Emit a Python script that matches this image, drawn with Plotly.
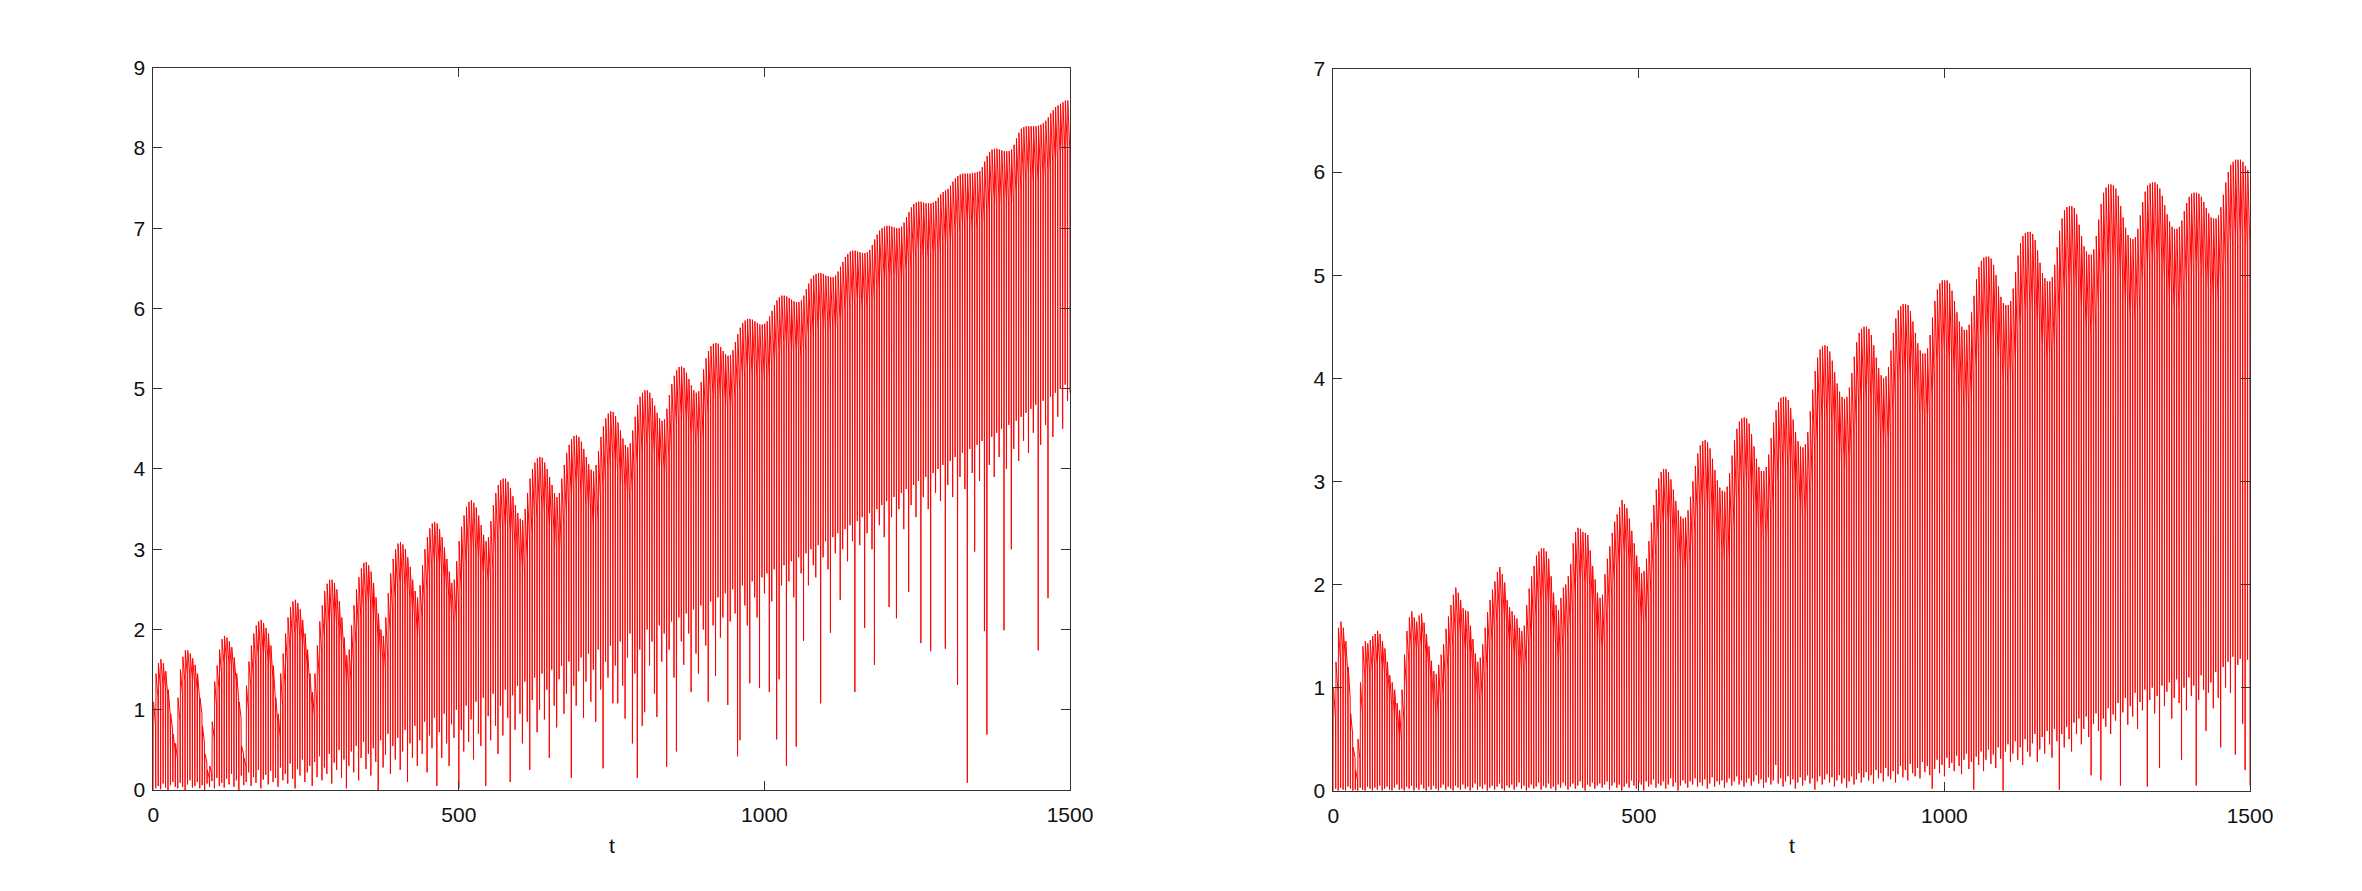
import numpy as np
import plotly.graph_objects as go

# ---------------- data ----------------
# Fast cycle: trough at t = 4k, crest right after, shoulder before next trough.
# LEFT panel
left_peaks = [
1.10,1.45,1.58,1.63,1.58,1.48,1.25,0.95,0.70,0.58,
1.15,1.50,1.66,1.74,1.74,1.70,1.64,1.56,1.45,1.15,
0.80,0.45,0.25,0.30,0.85,1.35,1.55,1.75,1.88,1.92,
1.90,1.85,1.78,1.65,1.45,1.10,0.55,0.40,1.30,1.60,
1.80,1.95,2.05,2.10,2.12,2.08,2.02,1.95,1.80,1.55,
1.15,0.95,1.45,1.70,1.95,2.15,2.28,2.35,2.37,2.33,
2.25,2.12,1.95,1.75,1.45,1.22,1.45,1.80,2.10,2.30,
2.48,2.57,2.62,2.62,2.58,2.50,2.35,2.15,1.90,1.68,
1.75,2.05,2.30,2.50,2.65,2.76,2.83,2.84,2.80,2.72,
2.58,2.40,2.20,2.00,1.92,2.15,2.45,2.70,2.88,3.00,
3.07,3.09,3.06,3.00,2.90,2.78,2.62,2.48,2.40,2.55,
2.80,3.00,3.15,3.26,3.32,3.34,3.32,3.25,3.15,3.02,
2.88,2.72,2.58,2.62,2.85,3.10,3.28,3.42,3.53,3.59,
3.61,3.58,3.52,3.42,3.30,3.18,3.10,3.15,3.35,3.55,
3.70,3.80,3.86,3.88,3.88,3.84,3.76,3.66,3.55,3.45,
3.38,3.36,3.50,3.70,3.88,4.00,4.08,4.13,4.15,4.14,
4.08,4.00,3.90,3.80,3.70,3.65,3.70,3.88,4.05,4.20,
4.30,4.37,4.41,4.42,4.40,4.34,4.25,4.15,4.06,3.99,
3.97,4.05,4.22,4.40,4.53,4.63,4.69,4.72,4.71,4.66,
4.58,4.48,4.38,4.30,4.27,4.32,4.48,4.65,4.80,4.90,
4.95,4.98,4.98,4.95,4.88,4.79,4.70,4.63,4.60,4.62,
4.75,4.92,5.06,5.16,5.23,5.27,5.28,5.26,5.20,5.12,
5.04,4.98,4.95,4.97,5.08,5.24,5.38,5.47,5.53,5.56,
5.57,5.56,5.52,5.47,5.43,5.41,5.42,5.48,5.58,5.68,
5.76,5.82,5.85,5.87,5.87,5.86,5.84,5.82,5.80,5.80,
5.81,5.84,5.90,5.97,6.04,6.10,6.14,6.16,6.16,6.15,
6.13,6.11,6.09,6.08,6.08,6.10,6.16,6.24,6.31,6.37,
6.41,6.43,6.44,6.44,6.43,6.41,6.40,6.39,6.39,6.41,
6.46,6.52,6.58,6.64,6.68,6.71,6.72,6.72,6.71,6.70,
6.69,6.69,6.70,6.73,6.79,6.86,6.92,6.97,7.00,7.02,
7.03,7.03,7.02,7.01,7.00,7.00,7.02,7.07,7.14,7.20,
7.26,7.30,7.32,7.33,7.33,7.32,7.31,7.31,7.31,7.32,
7.34,7.38,7.42,7.45,7.47,7.49,7.53,7.58,7.62,7.65,
7.67,7.68,7.68,7.68,7.68,7.69,7.69,7.70,7.71,7.76,
7.83,7.90,7.95,7.98,7.99,7.99,7.98,7.97,7.96,7.96,
7.96,7.98,8.04,8.12,8.19,8.24,8.26,8.27,8.27,8.27,
8.27,8.27,8.28,8.29,8.31,8.34,8.38,8.43,8.47,8.51,
8.53,8.55,8.57,8.59,8.59]

left_band = [
0.3,0.3,0.3,0.3,0.3,0.3,0.3,0.2,0.2,0.2,
0.3,0.3,0.3,0.3,0.3,0.3,0.3,0.3,0.3,0.2,
0.2,0.1,0.1,0.1,0.2,0.3,0.3,0.3,0.3,0.3,
0.3,0.3,0.3,0.3,0.3,0.2,0.1,0.1,0.3,0.3,
0.4,0.4,0.4,0.4,0.4,0.4,0.4,0.4,0.4,0.4,
0.3,0.3,0.4,0.4,0.4,0.4,0.4,0.4,0.4,0.4,
0.4,0.4,0.4,0.4,0.4,0.3,0.4,0.4,0.4,0.4,
0.5,0.5,0.5,0.4,0.5,0.5,0.5,0.4,0.5,0.4,
0.4,0.5,0.5,0.5,0.5,0.5,0.5,0.5,0.5,0.5,
0.5,0.5,0.5,0.4,0.4,0.5,0.5,0.5,0.5,0.5,
0.5,0.5,0.5,0.5,0.5,0.5,0.5,0.5,0.5,0.4,
0.5,0.5,0.5,0.5,0.5,0.5,0.5,0.5,0.5,0.5,
0.5,0.5,0.5,0.5,0.6,0.6,0.6,0.6,0.6,0.5,
0.6,0.6,0.6,0.6,0.6,0.5,0.5,0.5,0.6,0.6,
0.6,0.6,0.6,0.6,0.6,0.6,0.6,0.6,0.6,0.6,
0.6,0.7,0.6,0.6,0.7,0.6,0.7,0.6,0.6,0.7,
0.6,0.7,0.6,0.6,0.7,0.6,0.7,0.6,0.6,0.7,
0.6,0.7,0.6,0.6,0.7,0.6,0.7,0.6,0.6,0.7,
0.6,0.7,0.6,0.6,0.7,0.6,0.7,0.6,0.6,0.7,
0.6,0.7,0.6,0.6,0.7,0.6,0.7,0.6,0.6,0.7,
0.6,0.7,0.6,0.6,0.7,0.6,0.7,0.6,0.6,0.7,
0.6,0.7,0.6,0.6,0.7,0.6,0.7,0.6,0.6,0.7,
0.6,0.7,0.6,0.6,0.7,0.6,0.7,0.6,0.6,0.7,
0.6,0.7,0.6,0.6,0.7,0.6,0.7,0.6,0.6,0.7,
0.6,0.7,0.6,0.6,0.7,0.6,0.7,0.6,0.6,0.7,
0.6,0.7,0.6,0.6,0.7,0.6,0.7,0.6,0.6,0.7,
0.6,0.7,0.6,0.6,0.7,0.6,0.7,0.6,0.6,0.7,
0.6,0.7,0.6,0.6,0.7,0.6,0.7,0.6,0.6,0.7,
0.6,0.7,0.6,0.6,0.7,0.6,0.7,0.6,0.6,0.7,
0.6,0.7,0.6,0.6,0.7,0.6,0.7,0.6,0.6,0.7,
0.6,0.7,0.6,0.6,0.7,0.6,0.7,0.6,0.6,0.7,
0.6,0.7,0.6,0.6,0.7,0.6,0.7,0.6,0.6,0.7,
0.6,0.7,0.6,0.6,0.7,0.6,0.7,0.6,0.6,0.7,
0.6,0.7,0.6,0.6,0.7,0.6,0.7,0.6,0.6,0.7,
0.6,0.7,0.6,0.6,0.7,0.6,0.7,0.6,0.6,0.7,
0.6,0.7,0.6,0.6,0.7,0.6,0.7,0.6,0.6,0.7,
0.6,0.7,0.6,0.6,0.7,0.6,0.7,0.6,0.6,0.7,
0.6,0.6,0.6,0.6,0.6]

left_troughs = [
0.00,0.02,0.05,0.01,0.08,0.03,0.00,0.06,0.10,0.04,
0.02,0.09,0.04,0.00,0.07,0.12,0.03,0.05,0.10,0.02,
0.06,0.00,0.08,0.04,0.11,0.02,0.15,0.05,0.09,0.03,
0.14,0.07,0.20,0.04,0.12,0.00,0.18,0.06,0.10,0.22,
0.05,0.16,0.09,0.25,0.02,0.13,0.19,0.07,0.24,0.10,
0.15,0.04,0.28,0.12,0.20,0.08,0.33,0.14,0.02,0.26,
0.18,0.38,0.10,0.22,0.30,0.05,0.35,0.16,0.42,0.12,
0.28,0.20,0.45,0.08,0.34,0.25,0.50,0.15,0.38,0.02,
0.30,0.48,0.22,0.55,0.12,0.40,0.60,0.26,0.45,0.18,
0.52,0.35,0.00,0.62,0.28,0.44,0.70,0.20,0.55,0.38,
0.65,0.25,0.48,0.75,0.10,0.58,0.40,0.80,0.30,0.62,
0.45,0.85,0.22,0.68,0.52,0.90,0.05,0.72,0.40,0.95,
0.58,0.30,0.82,0.65,1.00,0.02,0.75,0.48,1.05,0.60,
0.88,0.38,1.10,0.70,0.55,1.15,0.05,0.92,0.62,1.20,
0.80,0.45,1.05,0.68,1.25,0.90,0.10,1.18,0.75,1.30,
0.95,0.58,1.35,0.85,0.25,1.12,1.40,0.72,1.00,1.45,
0.88,1.25,0.40,1.50,1.05,0.78,1.38,1.55,0.95,1.20,
1.60,0.15,1.30,1.05,1.48,1.65,0.90,1.35,1.70,1.10,
1.50,0.85,1.75,1.25,0.27,1.60,1.40,1.80,1.08,1.55,
1.08,1.85,1.30,0.89,1.65,1.95,0.58,1.45,0.15,1.75,
0.80,0.97,2.00,1.55,1.85,1.20,0.91,2.05,1.60,1.95,
0.29,1.75,2.10,1.40,0.48,2.15,1.85,1.56,2.20,1.95,
1.22,2.25,1.70,1.45,2.30,2.00,1.80,1.10,2.35,2.05,
1.42,2.40,1.90,2.15,2.45,1.06,2.10,2.50,2.20,0.42,
0.62,2.55,2.30,2.05,1.33,2.60,2.40,2.15,1.27,2.65,
2.45,2.70,1.22,2.35,2.75,0.63,1.38,2.55,2.80,0.30,
2.60,2.85,2.40,0.54,2.90,2.70,1.86,2.95,2.55,3.00,
2.80,2.65,3.05,1.08,2.90,3.10,2.75,1.96,3.15,2.95,
3.20,2.37,3.00,3.25,2.85,3.30,3.10,1.22,3.35,3.05,
3.40,2.02,3.20,3.45,3.00,1.56,3.50,3.30,3.55,3.15,
3.60,2.28,3.40,3.65,2.14,3.50,3.70,3.25,3.75,2.47,
3.55,3.80,3.40,3.85,1.83,3.65,3.90,3.50,1.73,3.95,
3.70,4.00,3.60,4.05,1.76,3.80,4.10,3.65,4.15,1.31,
3.90,4.20,3.75,0.09,4.25,3.95,2.97,4.30,3.85,4.35,
1.98,0.69,4.05,4.40,3.90,4.45,4.15,4.50,1.99,4.00,
4.55,3.00,4.25,4.60,4.10,4.65,4.35,4.70,4.20,4.75,
4.45,4.80,1.74,4.30,4.85,4.55,2.39,4.90,4.40,4.95,
4.65,5.00,4.50,5.05,4.85,4.95]

# RIGHT panel
right_peaks = [
1.00,1.25,1.58,1.64,1.58,1.45,1.20,0.75,0.42,0.20,
0.50,1.05,1.40,1.45,1.43,1.46,1.50,1.52,1.55,1.52,
1.45,1.38,1.25,1.12,1.05,0.98,0.85,0.78,0.98,1.32,
1.55,1.68,1.74,1.68,1.64,1.70,1.72,1.63,1.52,1.40,
1.26,1.16,1.13,1.22,1.32,1.42,1.57,1.69,1.80,1.90,
1.97,1.92,1.85,1.77,1.75,1.74,1.60,1.47,1.33,1.25,
1.29,1.42,1.58,1.73,1.85,1.95,2.03,2.12,2.17,2.10,
2.02,1.85,1.78,1.74,1.70,1.67,1.58,1.55,1.60,1.80,
1.96,2.08,2.18,2.28,2.32,2.35,2.35,2.32,2.25,2.08,
1.92,1.80,1.75,1.87,1.97,2.00,2.08,2.20,2.40,2.51,
2.55,2.54,2.51,2.50,2.48,2.33,2.18,2.05,1.92,1.87,
1.90,2.10,2.25,2.37,2.50,2.61,2.68,2.75,2.82,2.78,
2.74,2.64,2.52,2.40,2.28,2.17,2.11,2.13,2.25,2.42,
2.60,2.77,2.92,3.03,3.09,3.12,3.12,3.09,3.02,2.92,
2.81,2.72,2.66,2.64,2.65,2.72,2.85,3.00,3.15,3.27,
3.35,3.39,3.40,3.38,3.32,3.22,3.11,3.01,2.94,2.91,
2.90,2.95,3.08,3.25,3.40,3.51,3.58,3.61,3.62,3.61,
3.56,3.46,3.34,3.22,3.14,3.10,3.10,3.14,3.26,3.42,
3.57,3.69,3.77,3.81,3.82,3.82,3.79,3.71,3.60,3.48,
3.39,3.34,3.33,3.36,3.48,3.68,3.89,4.07,4.20,4.28,
4.31,4.32,4.31,4.26,4.17,4.06,3.95,3.87,3.82,3.80,
3.82,3.91,4.05,4.21,4.35,4.44,4.48,4.50,4.50,4.48,
4.42,4.32,4.20,4.10,4.03,4.00,4.02,4.11,4.27,4.44,
4.58,4.66,4.70,4.72,4.72,4.71,4.65,4.55,4.44,4.34,
4.27,4.24,4.24,4.29,4.42,4.59,4.75,4.86,4.92,4.95,
4.95,4.95,4.92,4.85,4.75,4.64,4.55,4.50,4.47,4.47,
4.52,4.64,4.80,4.96,5.08,5.14,5.17,5.18,5.18,5.16,
5.10,5.00,4.89,4.79,4.73,4.71,4.71,4.75,4.87,5.03,
5.19,5.31,5.38,5.41,5.42,5.42,5.40,5.34,5.24,5.12,
5.02,4.97,4.94,4.94,4.98,5.10,5.27,5.43,5.55,5.63,
5.66,5.67,5.67,5.65,5.59,5.49,5.38,5.28,5.23,5.20,
5.20,5.25,5.38,5.54,5.69,5.80,5.85,5.88,5.88,5.87,
5.84,5.77,5.67,5.56,5.46,5.39,5.36,5.35,5.37,5.45,
5.58,5.71,5.81,5.87,5.89,5.90,5.90,5.88,5.84,5.77,
5.68,5.59,5.52,5.47,5.45,5.45,5.47,5.53,5.62,5.70,
5.76,5.79,5.80,5.80,5.79,5.76,5.71,5.65,5.60,5.56,
5.55,5.55,5.58,5.66,5.78,5.90,6.00,6.07,6.10,6.12,
6.12,6.12,6.10,6.06,6.02]

right_band = [
0.3,0.3,0.3,0.3,0.3,0.3,0.3,0.2,0.1,0.1,
0.2,0.3,0.3,0.3,0.3,0.3,0.3,0.3,0.3,0.3,
0.3,0.3,0.3,0.3,0.3,0.3,0.3,0.3,0.3,0.3,
0.3,0.3,0.3,0.3,0.3,0.3,0.3,0.3,0.3,0.3,
0.4,0.4,0.4,0.4,0.4,0.4,0.4,0.4,0.4,0.4,
0.4,0.4,0.4,0.4,0.4,0.4,0.4,0.4,0.4,0.4,
0.4,0.4,0.4,0.4,0.4,0.4,0.4,0.4,0.4,0.4,
0.4,0.4,0.4,0.4,0.4,0.4,0.4,0.4,0.4,0.4,
0.5,0.5,0.5,0.5,0.5,0.5,0.5,0.5,0.5,0.5,
0.5,0.5,0.5,0.5,0.5,0.5,0.5,0.5,0.5,0.5,
0.5,0.5,0.5,0.5,0.5,0.5,0.5,0.5,0.5,0.5,
0.5,0.5,0.5,0.5,0.5,0.5,0.5,0.5,0.5,0.5,
0.5,0.5,0.5,0.5,0.5,0.5,0.5,0.5,0.5,0.5,
0.5,0.5,0.5,0.5,0.5,0.5,0.5,0.5,0.5,0.5,
0.5,0.5,0.5,0.5,0.5,0.5,0.5,0.5,0.5,0.5,
0.6,0.7,0.6,0.7,0.6,0.7,0.6,0.7,0.6,0.7,
0.6,0.7,0.6,0.7,0.6,0.7,0.6,0.7,0.6,0.7,
0.6,0.7,0.6,0.7,0.6,0.7,0.6,0.7,0.6,0.7,
0.6,0.7,0.6,0.7,0.6,0.7,0.6,0.7,0.6,0.7,
0.6,0.7,0.6,0.7,0.6,0.7,0.6,0.7,0.6,0.7,
0.6,0.7,0.6,0.7,0.6,0.7,0.6,0.7,0.6,0.7,
0.6,0.7,0.6,0.7,0.6,0.7,0.6,0.7,0.6,0.7,
0.6,0.7,0.6,0.7,0.6,0.7,0.6,0.7,0.6,0.7,
0.6,0.7,0.6,0.7,0.6,0.7,0.6,0.7,0.6,0.7,
0.6,0.7,0.6,0.7,0.6,0.7,0.6,0.7,0.6,0.7,
0.7,0.8,0.7,0.8,0.7,0.8,0.7,0.8,0.7,0.8,
0.7,0.8,0.7,0.8,0.7,0.8,0.7,0.8,0.7,0.8,
0.7,0.8,0.7,0.8,0.7,0.8,0.7,0.8,0.7,0.8,
0.7,0.8,0.7,0.8,0.7,0.8,0.7,0.8,0.7,0.8,
0.7,0.8,0.7,0.8,0.7,0.8,0.7,0.8,0.7,0.8,
0.7,0.8,0.7,0.8,0.7,0.8,0.7,0.8,0.7,0.8,
0.7,0.8,0.7,0.8,0.7,0.8,0.7,0.8,0.7,0.8,
0.7,0.8,0.7,0.8,0.7,0.8,0.7,0.8,0.7,0.8,
0.7,0.8,0.7,0.8,0.7,0.8,0.7,0.8,0.7,0.8,
0.7,0.8,0.7,0.8,0.7,0.8,0.7,0.8,0.7,0.8,
0.7,0.8,0.7,0.8,0.7,0.8,0.7,0.8,0.7,0.8,
0.7,0.8,0.7,0.8,0.7,0.8,0.7,0.8,0.7,0.8,
0.7,0.8,0.7,0.8,0.7]

right_troughs = [
0.00,0.02,0.00,0.03,0.01,0.00,0.04,0.02,0.00,0.01,
0.00,0.03,0.01,0.00,0.04,0.02,0.00,0.03,0.01,0.05,
0.00,0.02,0.04,0.01,0.00,0.03,0.06,0.01,0.02,0.00,
0.04,0.02,0.05,0.00,0.03,0.01,0.06,0.02,0.00,0.04,
0.01,0.05,0.02,0.00,0.03,0.06,0.01,0.04,0.02,0.00,
0.05,0.03,0.01,0.06,0.02,0.04,0.00,0.03,0.07,0.01,
0.04,0.02,0.06,0.00,0.03,0.05,0.01,0.04,0.07,0.02,
0.00,0.05,0.03,0.06,0.01,0.04,0.08,0.02,0.05,0.00,
0.03,0.06,0.02,0.04,0.08,0.01,0.05,0.03,0.07,0.02,
0.04,0.00,0.06,0.03,0.08,0.05,0.01,0.04,0.07,0.02,
0.05,0.09,0.03,0.00,0.06,0.04,0.08,0.02,0.05,0.07,
0.03,0.06,0.09,0.01,0.05,0.08,0.03,0.06,0.00,0.04,
0.07,0.03,0.10,0.05,0.02,0.08,0.06,0.00,0.09,0.04,
0.06,0.11,0.03,0.07,0.05,0.09,0.02,0.06,0.12,0.04,
0.08,0.00,0.05,0.10,0.07,0.03,0.09,0.06,0.12,0.04,
0.08,0.05,0.11,0.02,0.07,0.13,0.04,0.09,0.06,0.10,
0.03,0.08,0.12,0.05,0.09,0.14,0.06,0.10,0.04,0.08,
0.12,0.05,0.09,0.15,0.07,0.11,0.03,0.08,0.13,0.06,
0.10,0.25,0.07,0.12,0.04,0.09,0.14,0.06,0.11,0.02,
0.08,0.13,0.05,0.10,0.15,0.07,0.12,0.01,0.09,0.14,
0.06,0.11,0.16,0.08,0.13,0.04,0.10,0.15,0.07,0.12,
0.03,0.09,0.14,0.06,0.11,0.17,0.08,0.13,0.18,0.10,
0.15,0.07,0.20,0.12,0.17,0.09,0.22,0.14,0.11,0.19,
0.08,0.16,0.24,0.13,0.20,0.10,0.26,0.17,0.14,0.22,
0.12,0.28,0.18,0.24,0.15,0.02,0.21,0.30,0.17,0.25,
0.14,0.32,0.22,0.27,0.19,0.34,0.24,0.16,0.30,0.36,
0.21,0.28,0.01,0.33,0.25,0.38,0.19,0.30,0.40,0.26,
0.35,0.22,0.42,0.31,0.00,0.38,0.45,0.28,0.36,0.48,
0.30,0.42,0.25,0.50,0.38,0.33,0.46,0.55,0.28,0.40,
0.52,0.36,0.58,0.45,0.32,0.60,0.48,0.01,0.55,0.42,
0.62,0.50,0.38,0.66,0.55,0.70,0.45,0.60,0.72,0.52,
0.15,0.65,0.75,0.58,0.10,0.70,0.62,0.80,0.55,0.74,
0.68,0.85,0.05,0.76,0.90,0.64,0.82,0.72,0.95,0.60,
0.86,0.78,0.98,0.04,0.88,1.00,0.75,0.92,0.22,1.02,
0.82,0.96,1.05,0.70,0.90,1.08,0.85,0.30,1.00,0.78,
1.10,0.92,1.02,0.05,0.88,1.12,0.98,0.58,0.95,1.05,
0.80,1.15,0.90,0.42,1.20,1.00,1.25,0.95,1.30,0.35,
1.22,1.28,0.65,0.20,1.27,0.05]

x_ticks = [0, 500, 1000, 1500]
left_yticks = [0, 1, 2, 3, 4, 5, 6, 7, 8, 9]
right_yticks = [0, 1, 2, 3, 4, 5, 6, 7]
x_label = "t"
cycle = 4.0  # time between successive troughs


def build(peaks, band, troughs):
    n = min(len(peaks), len(band), len(troughs) - 1)
    xs, ys = [], []
    for k in range(n):
        t0 = k * cycle
        xs += [t0, t0 + 0.4, t0 + cycle - 0.4]
        ys += [troughs[k], peaks[k], peaks[k] - band[k]]
    xs.append(n * cycle)
    ys.append(troughs[n])
    return xs, ys


lx, ly = build(left_peaks, left_band, left_troughs)
rx, ry = build(right_peaks, right_band, right_troughs)

W, H = 2362, 891
fig = go.Figure()
fig.add_trace(go.Scatter(x=lx, y=ly, mode="lines", line=dict(color="#ff0000", width=1),
                         xaxis="x", yaxis="y", hoverinfo="skip", showlegend=False))
fig.add_trace(go.Scatter(x=rx, y=ry, mode="lines", line=dict(color="#ff0000", width=1),
                         xaxis="x2", yaxis="y2", hoverinfo="skip", showlegend=False))

font = dict(family="Liberation Sans, Arial, Helvetica, sans-serif", size=21, color="#111111")
axis_common = dict(showgrid=False, zeroline=False, showline=True, linecolor="#333333",
                   linewidth=1, mirror="ticks", ticks="inside", ticklen=9, tickwidth=1,
                   tickcolor="#333333", tickfont=font, automargin=False)

fig.update_layout(
    width=W, height=H,
    margin=dict(l=0, r=0, t=0, b=0, pad=0),
    paper_bgcolor="white", plot_bgcolor="white",
    xaxis=dict(domain=[153.3 / W, 1070 / W], range=[0, 1500], tickvals=x_ticks,
               anchor="y", ticklabelstandoff=6, **axis_common),
    yaxis=dict(domain=[(H - 790) / H, (H - 67.7) / H], range=[0, 9], tickvals=left_yticks,
               anchor="x", ticklabelstandoff=3, **axis_common),
    xaxis2=dict(domain=[1333.3 / W, 2250 / W], range=[0, 1500], tickvals=x_ticks,
                anchor="y2", ticklabelstandoff=6, **axis_common),
    yaxis2=dict(domain=[(H - 790.7) / H, (H - 69) / H], range=[0, 7], tickvals=right_yticks,
                anchor="x2", ticklabelstandoff=3, **axis_common),
    annotations=[
        dict(text=x_label, x=612 / W, y=(H - 845) / H, xref="paper", yref="paper",
             showarrow=False, font=font, xanchor="center", yanchor="middle"),
        dict(text=x_label, x=1792 / W, y=(H - 845) / H, xref="paper", yref="paper",
             showarrow=False, font=font, xanchor="center", yanchor="middle"),
    ],
)

fig.write_html("out.html")
